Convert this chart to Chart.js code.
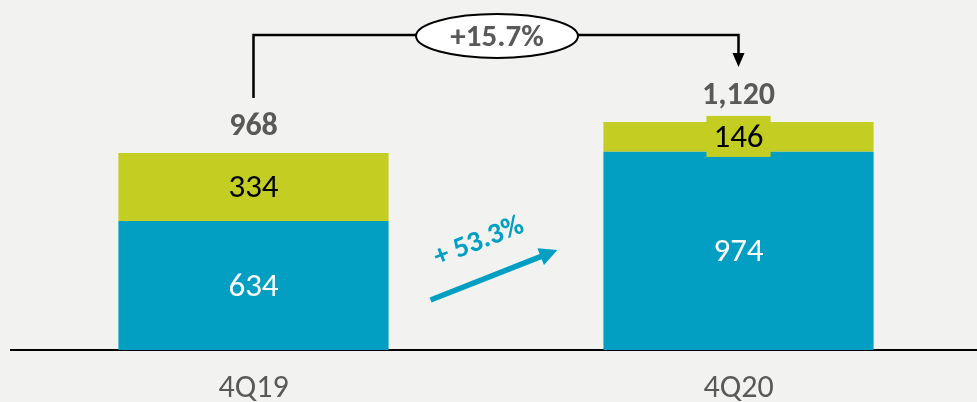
<!DOCTYPE html>
<html>
<head>
<meta charset="utf-8">
<script src="https://cdn.jsdelivr.net/npm/chart.js@4.4.1/dist/chart.umd.min.js"></script>
<style>
  html, body { margin: 0; padding: 0; overflow: hidden; background: #f2f2f0; }
  #wrap { width: 981px; height: 402px; }
</style>
</head>
<body>
<div id="wrap"><canvas id="revChart" width="981" height="402"></canvas></div>
<script>
// 季度对比：堆叠柱 + 增长标注
const categories = ['4Q19', '4Q20'];
const baseValues = [634, 974];
const topValues = [334, 146];
const growthTotal = '+15.7%';
const growthBase = '+ 53.3%';

const BLUE = '#029fc3';
const GREEN = '#c3cd22';
const GREY = '#595959';
const FONT = 'Carlito, Lato, sans-serif';

const totals = baseValues.map((v, i) => v + topValues[i]);

const labelPlugin = {
    id: 'labels',
    afterDatasetsDraw(chart) {
        const ctx = chart.ctx;
        const baseBars = chart.getDatasetMeta(0).data;
        const topBars = chart.getDatasetMeta(1).data;
        ctx.save();
        ctx.textAlign = 'center';
        ctx.textBaseline = 'middle';

        // 分段数值
        baseBars.forEach((bar, i) => {
            ctx.font = '33px ' + FONT;
            ctx.fillStyle = '#ffffff';
            ctx.fillText(String(baseValues[i]), bar.x, (bar.y + bar.base) / 2 + 2);
        });
        topBars.forEach((bar, i) => {
            ctx.font = '33px ' + FONT;
            const txt = String(topValues[i]);
            const cy = (bar.y + bar.base) / 2;
            if (bar.base - bar.y < 40) {
                // 段太窄，给文字加底框
                const w = ctx.measureText(txt).width + 14;
                ctx.fillStyle = GREEN;
                ctx.fillRect(bar.x - w / 2, cy - 21, w, 41);
            }
            ctx.fillStyle = '#000000';
            ctx.fillText(txt, bar.x, cy + 2);
        });

        // 合计
        topBars.forEach((bar, i) => {
            ctx.font = 'bold 32px ' + FONT;
            ctx.fillStyle = GREY;
            ctx.fillText(totals[i].toLocaleString('en-US'), bar.x, bar.y - 26);
        });

        // 合计增长括线
        const x0 = topBars[0].x, x1 = topBars[1].x;
        const yTop = 35;
        ctx.strokeStyle = '#000000';
        ctx.lineWidth = 2.5;
        ctx.beginPath();
        ctx.moveTo(x0, topBars[0].y - 55);
        ctx.lineTo(x0, yTop);
        ctx.lineTo(x1, yTop);
        ctx.lineTo(x1, 55);
        ctx.stroke();
        ctx.fillStyle = '#000000';
        ctx.beginPath();
        ctx.moveTo(x1 - 6, 53);
        ctx.lineTo(x1 + 6, 53);
        ctx.lineTo(x1, 67);
        ctx.closePath();
        ctx.fill();

        const ex = (x0 + x1) / 2 + 1;
        ctx.beginPath();
        ctx.ellipse(ex, 36, 81, 22, 0, 0, Math.PI * 2);
        ctx.fillStyle = '#ffffff';
        ctx.fill();
        ctx.lineWidth = 2;
        ctx.stroke();
        ctx.font = 'bold 31px ' + FONT;
        ctx.fillStyle = GREY;
        ctx.fillText(growthTotal, ex, 38);

        // 蓝色部分增长箭头
        const gapL = baseBars[0].x + baseBars[0].width / 2;
        const gapR = baseBars[1].x - baseBars[1].width / 2;
        const ax0 = gapL + 42, ay0 = 300;
        const ax1 = gapR - 46, ay1 = 250;
        const ang = Math.atan2(ay1 - ay0, ax1 - ax0);
        ctx.strokeStyle = BLUE;
        ctx.fillStyle = BLUE;
        ctx.lineWidth = 5.5;
        ctx.beginPath();
        ctx.moveTo(ax0, ay0);
        ctx.lineTo(ax1 - 14 * Math.cos(ang), ay1 - 14 * Math.sin(ang));
        ctx.stroke();
        ctx.save();
        ctx.translate(ax1, ay1);
        ctx.rotate(ang);
        ctx.beginPath();
        ctx.moveTo(0, 0);
        ctx.lineTo(-18, -9);
        ctx.lineTo(-18, 9);
        ctx.closePath();
        ctx.fill();
        ctx.restore();

        ctx.save();
        ctx.translate((ax0 + ax1) / 2 - 15, (ay0 + ay1) / 2 - 33);
        ctx.rotate(ang);
        ctx.font = 'bold 29px ' + FONT;
        ctx.fillText(growthBase, 0, 0);
        ctx.restore();

        ctx.restore();
    }
};

new Chart(document.getElementById('revChart').getContext('2d'), {
    type: 'bar',
    data: {
        labels: categories,
        datasets: [
            { data: baseValues, backgroundColor: BLUE, borderWidth: 0 },
            { data: topValues, backgroundColor: GREEN, borderWidth: 0 }
        ]
    },
    options: {
        responsive: false,
        animation: false,
        layout: { padding: { left: 11, right: 0, top: 0, bottom: 0 } },
        plugins: {
            legend: { display: false },
            tooltip: { enabled: false }
        },
        datasets: {
            bar: { barPercentage: 0.557, categoryPercentage: 1 }
        },
        scales: {
            x: {
                stacked: true,
                grid: { display: false, drawTicks: false },
                border: { display: true, color: '#000000', width: 2 },
                ticks: {
                    padding: 20,
                    color: GREY,
                    font: { family: FONT, size: 32 }
                },
                afterFit(scale) { scale.height = 52; }
            },
            y: {
                stacked: true,
                display: false,
                min: 0,
                max: 1720
            }
        }
    },
    plugins: [labelPlugin]
});
</script>
</body>
</html>
